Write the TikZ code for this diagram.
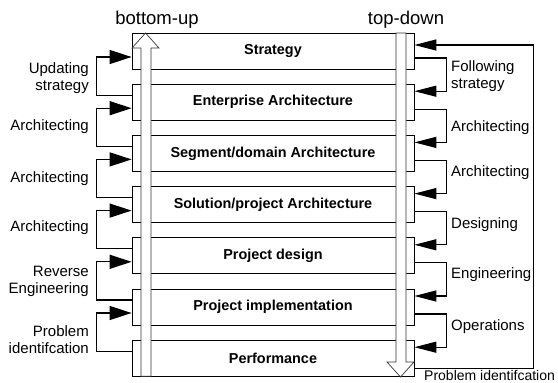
\documentclass[tikz,border=0pt]{standalone}
\usepackage{fontspec}
\setmainfont{Liberation Sans}
\usetikzlibrary{arrows.meta,calc}
\begin{document}
\begin{tikzpicture}[x=1pt,y=-1pt,
  layer/.style={draw, line width=0.8pt, fill=white, minimum width=282pt,
    minimum height=36pt, inner sep=0pt, font=\fontsize{14.4}{17}\selectfont\bfseries},
  shaft/.style={draw=black!80, line width=0.7pt, fill=white},
  lconn/.style={line width=1.3pt, -{Triangle[length=22pt,width=14pt]}},
  rconn/.style={line width=1.3pt, -{Triangle[length=22pt,width=11pt]}},
  lbl/.style={font=\fontsize{15}{17}\selectfont, inner sep=0pt},
  ttl/.style={font=\fontsize{18.5}{22}\selectfont, inner sep=0pt}]
\useasboundingbox (0,0) rectangle (558,383);

% architecture layers
\node[layer] (L1) at (273,51)    {Strategy};
\node[layer] (L2) at (273,102.2) {Enterprise Architecture};
\node[layer] (L3) at (273,153.4) {Segment/domain Architecture};
\node[layer] (L4) at (273,204.6) {Solution/project Architecture};
\node[layer] (L5) at (273,255.8) {Project design};
\node[layer] (L6) at (273,307)   {Project implementation};
\node[layer] (L7) at (273,358.2) {Performance};

% hollow direction arrows
\draw[shaft] (141,376.2) -- (141,48) -- (132,48) -- (145.5,33) -- (159,48)
  -- (151,48) -- (151,376.2) -- cycle;
\draw[shaft] (396,33) -- (396,362) -- (387,362) -- (400.5,377) -- (414,362)
  -- (406,362) -- (406,33) -- cycle;

% titles
\node[ttl] (tup) at (157,20) {bottom-up};
\node[ttl] (tdown) at (406,20) {top-down};

% bottom-up loops
\foreach \u/\l in {L1/L2,L2/L3,L3/L4,L4/L5,L5/L6,L6/L7}{
  \draw[lconn] ($(\l.west)+(0,-7)$) -- ($(\l.west)+(-35,-7)$) |- ($(\u.west)+(0,6)$);
}
% top-down loops
\foreach \u/\l in {L1/L2,L2/L3,L3/L4,L4/L5,L5/L6,L6/L7}{
  \draw[rconn] ($(\u.east)+(0,7)$) -- ($(\u.east)+(32,7)$) |- ($(\l.east)+(0,-11)$);
}
% feedback from performance to strategy
\draw[rconn] ($(L7.east)+(0,10)$) -- ($(L7.east)+(119,10)$) |- ($(L1.east)+(0,-6)$);

% left labels
\node[lbl, anchor=east, align=right] (a1) at (89,78)    {Updating\\strategy};
\node[lbl, anchor=east] (a2) at (89,127)  {Architecting};
\node[lbl, anchor=east] (a3) at (89,179)  {Architecting};
\node[lbl, anchor=east] (a4) at (89,228)  {Architecting};
\node[lbl, anchor=east, align=right] (a5) at (89,281.5) {Reverse\\Engineering};
\node[lbl, anchor=east, align=right] (a6) at (89,340)   {Problem\\identifcation};

% right labels
\node[lbl, anchor=west, align=left] (b1) at (451,76) {Following\\strategy};
\node[lbl, anchor=west] (b2) at (451,128) {Architecting};
\node[lbl, anchor=west] (b3) at (451,173) {Architecting};
\node[lbl, anchor=west] (b4) at (451,225) {Designing};
\node[lbl, anchor=west] (b5) at (451,275) {Engineering};
\node[lbl, anchor=west] (b6) at (451,327) {Operations};
\node[lbl, anchor=west, font=\fontsize{14}{16}\selectfont] (b7) at (424,375) {Problem identifcation};
\end{tikzpicture}
\end{document}
